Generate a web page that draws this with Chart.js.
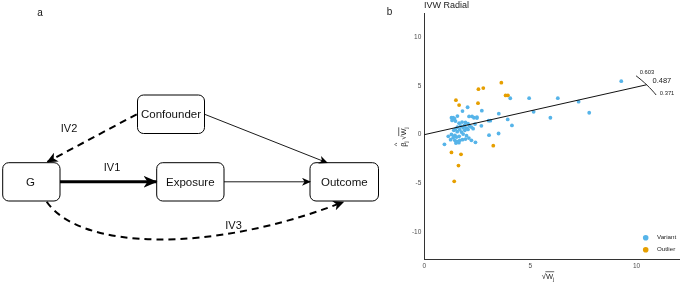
<!DOCTYPE html>
<html>
<head>
<meta charset="utf-8">
<script src="https://cdn.jsdelivr.net/npm/chart.js@4.4.1/dist/chart.umd.min.js"></script>
<style>
  html, body { margin: 0; padding: 0; background: #fff; }
  #wrap { position: relative; width: 683px; height: 285px; overflow: hidden; }
  #radialChart { position: absolute; left: 0; top: 0; }
  #dag { position: absolute; left: 0; top: 0; }
  #dag text { font-family: "Liberation Sans", Arial, sans-serif; fill: #111; }
</style>
</head>
<body>
<div id="wrap">
  <canvas id="radialChart" width="683" height="285"></canvas>
  <svg id="dag" width="380" height="285" viewBox="0 0 380 285">
    <defs>
      <marker id="headBig" markerUnits="userSpaceOnUse" markerWidth="14" markerHeight="12" refX="13" refY="6" orient="auto">
        <path d="M0,0 L14,6 L0,12 L4,6 Z" fill="#000"/>
      </marker>
      <marker id="headMid" markerUnits="userSpaceOnUse" markerWidth="11" markerHeight="10" refX="10" refY="5" orient="auto">
        <path d="M0,0 L11,5 L0,10 L3,5 Z" fill="#000"/>
      </marker>
      <marker id="headSmall" markerUnits="userSpaceOnUse" markerWidth="9" markerHeight="8" refX="8" refY="4" orient="auto">
        <path d="M0,0 L9,4 L0,8 L2.5,4 Z" fill="#000"/>
      </marker>
    </defs>
    <text x="40" y="16" font-size="10" text-anchor="middle">a</text>

    <!-- boxes -->
    <rect x="137.5" y="95" width="67" height="38.5" rx="6" fill="#fff" stroke="#000" stroke-width="1"/>
    <rect x="2.7" y="162.7" width="57.3" height="38.3" rx="6" fill="#fff" stroke="#000" stroke-width="1"/>
    <rect x="156.7" y="162.7" width="67.3" height="38.3" rx="6" fill="#fff" stroke="#000" stroke-width="1"/>
    <rect x="310" y="162.7" width="68.5" height="38.3" rx="6" fill="#fff" stroke="#000" stroke-width="1"/>
    <text x="171" y="118" font-size="11.5" text-anchor="middle">Confounder</text>
    <text x="30.5" y="186" font-size="11.5" text-anchor="middle">G</text>
    <text x="190.3" y="186" font-size="11.5" text-anchor="middle">Exposure</text>
    <text x="344.3" y="186" font-size="11.5" text-anchor="middle">Outcome</text>

    <!-- arrows -->
    <line x1="60" y1="181.8" x2="156.5" y2="181.8" stroke="#000" stroke-width="3" marker-end="url(#headBig)"/>
    <line x1="224" y1="181.8" x2="310" y2="181.8" stroke="#000" stroke-width="0.9" marker-end="url(#headSmall)"/>
    <line x1="204.7" y1="114.3" x2="327" y2="162.7" stroke="#000" stroke-width="0.9" marker-end="url(#headSmall)"/>
    <line x1="136.7" y1="114.3" x2="47.5" y2="161.8" stroke="#000" stroke-width="2" stroke-dasharray="7,5" marker-end="url(#headMid)"/>
    <path d="M46.7,201.7 C80,250 210,254 343.3,202" fill="none" stroke="#000" stroke-width="2" stroke-dasharray="7,5" marker-end="url(#headMid)"/>

    <text x="69" y="132" font-size="11" text-anchor="middle">IV2</text>
    <text x="112" y="170.5" font-size="11" text-anchor="middle">IV1</text>
    <text x="233.5" y="229" font-size="11" text-anchor="middle">IV3</text>
  </svg>
</div>
<script>
// Radial IVW plot data
const variantX = [9.28, 7.27, 7.77, 6.29, 4.94, 5.15, 5.94, 4.05, 4.13, 3.93, 3.51, 3.50, 3.05, 2.41, 0.95,
  2.04, 2.71, 3.03, 3.11, 2.69, 2.48, 1.80,
  1.28, 1.36, 1.42, 1.31, 1.47, 1.56, 2.11, 2.25, 2.34, 2.48,
  1.64, 1.78, 1.94, 2.06, 1.89, 2.13, 2.39, 1.72, 1.56, 2.22,
  1.83, 1.99, 1.67, 1.39, 1.47, 1.91, 2.06, 2.30, 1.55, 1.75,
  1.13, 1.28, 1.44, 1.52, 1.36, 1.64, 1.83, 1.99,
  1.44, 1.55, 1.49, 1.67, 1.80, 1.94, 2.10, 2.22, 1.63, 1.24];
const variantY = [5.47, 3.37, 2.24, 3.73, 3.73, 2.33, 1.73, 3.72, 0.95, 1.56, 2.15, 0.12, -0.05, -0.78, -0.99,
  2.80, 2.45, 1.43, 1.43, 0.90, 1.70, 2.41,
  1.73, 1.73, 1.63, 1.46, 1.39, 1.90, 1.87, 1.87, 1.73, 1.80,
  1.18, 1.29, 1.26, 1.12, 0.95, 0.88, 1.08, 0.88, 0.78, 0.78,
  0.71, 0.68, 0.51, 0.44, 0.57, 0.44, 0.54, 0.61, 0.31, 0.27,
  -0.17, 0.03, -0.07, -0.24, -0.31, -0.17, 0.06, -0.10,
  -0.58, -0.71, -0.86, -0.58, -0.51, -0.45, -0.35, -0.58, -0.82, -0.51];
const outlierX = [3.63, 2.55, 2.78, 3.83, 3.94, 1.49, 1.64, 2.53, 3.25, 1.28, 1.73, 1.61, 1.41];
const outlierY = [5.31, 4.65, 4.76, 4.01, 4.01, 3.53, 3.02, 3.22, -1.12, -1.81, -2.01, -3.16, -4.77];

// IVW estimate and its confidence bounds, radius of the scale arc
const ivwEstimate = 0.487;
const ivwLower = 0.371;
const ivwUpper = 0.603;
const arcRadius = 11.65;

const xTicks = [0, 5, 10];
const yTicks = [-10, -5, 0, 5, 10];

const blue = "#56B4E9";
const orange = "#E69F00";

function toPoints(xs, ys) {
  return xs.map((x, i) => ({ x: x, y: ys[i] }));
}
function onArc(slope, r) {
  const a = Math.atan(slope);
  return { x: r * Math.cos(a), y: r * Math.sin(a) };
}
function arcPoints(lo, hi, r) {
  const pts = [];
  const a0 = Math.atan(lo), a1 = Math.atan(hi);
  for (let k = 0; k <= 8; k++) {
    const a = a0 + (a1 - a0) * k / 8;
    pts.push({ x: r * Math.cos(a), y: r * Math.sin(a) });
  }
  return pts;
}

const FONT = '"Liberation Sans", Arial, sans-serif';

// draws  beta-hat_j sqrt(W_j)  or  sqrt(W_j) centred on 0,0
function drawMathLabel(ctx, fs, withBeta) {
  const mainF = fs + "px " + FONT;
  const subF = (fs * 0.72).toFixed(1) + "px " + FONT;
  ctx.font = mainF;
  const wB = ctx.measureText("β").width;
  const wS = ctx.measureText("√").width;
  const wW = ctx.measureText("W").width;
  ctx.font = subF;
  const wJ = ctx.measureText("j").width;
  const total = (withBeta ? wB + wJ + 1.5 : 0) + wS + wW + wJ;
  let x = -total / 2;
  const base = fs * 0.35;
  ctx.textBaseline = "alphabetic";
  ctx.textAlign = "left";
  if (withBeta) {
    ctx.font = mainF;
    ctx.fillText("β", x, base);
    ctx.fillText("^", x + wB * 0.12, base - fs * 0.82);
    x += wB;
    ctx.font = subF;
    ctx.fillText("j", x, base + fs * 0.3);
    x += wJ + 1.5;
  }
  ctx.font = mainF;
  ctx.fillText("√", x, base);
  x += wS;
  ctx.fillText("W", x, base);
  ctx.lineWidth = 0.7;
  ctx.beginPath();
  ctx.moveTo(x - 0.5, base - fs * 0.92);
  ctx.lineTo(x + wW + wJ, base - fs * 0.92);
  ctx.stroke();
  x += wW;
  ctx.font = subF;
  ctx.fillText("j", x, base + fs * 0.3);
}

const decorPlugin = {
  id: "decor",
  afterDraw(chart) {
    const ctx = chart.ctx;
    const xs = chart.scales.x, ys = chart.scales.y;
    ctx.save();
    ctx.fillStyle = "#1a1a1a";
    ctx.strokeStyle = "#1a1a1a";

    // panel letter and title
    ctx.font = "10px " + FONT;
    ctx.textBaseline = "middle";
    ctx.textAlign = "center";
    ctx.fillText("b", 389.5, 12);
    ctx.textAlign = "left";
    ctx.font = "9px " + FONT;
    ctx.fillText("IVW Radial", 424, 5.5);

    // axis titles
    ctx.fillStyle = "#222";
    ctx.strokeStyle = "#222";
    ctx.save();
    ctx.translate(403, 137);
    ctx.rotate(-Math.PI / 2);
    drawMathLabel(ctx, 7.5, true);
    ctx.restore();
    ctx.save();
    ctx.translate(548, 276);
    drawMathLabel(ctx, 7.5, false);
    ctx.restore();

    // estimate labels on the scale arc
    ctx.textBaseline = "middle";
    ctx.textAlign = "center";
    const labels = [
      { v: ivwUpper, r: 12.25, fs: 5.8 },
      { v: ivwEstimate, r: 12.45, fs: 7.5 },
      { v: ivwLower, r: 12.2, fs: 5.8 },
    ];
    labels.forEach((l) => {
      const p = onArc(l.v, l.r);
      ctx.font = l.fs + "px " + FONT;
      ctx.fillText(l.v.toFixed(3), xs.getPixelForValue(p.x), ys.getPixelForValue(p.y));
    });

    // legend, bottom right inside panel
    ctx.font = "6.2px " + FONT;
    ctx.textAlign = "left";
    [0, 1].forEach((i, k) => {
      const ds = chart.data.datasets[i];
      const y = 237.7 + k * 12;
      ctx.fillStyle = ds.backgroundColor;
      ctx.beginPath();
      ctx.arc(645.7, y, 2.8, 0, Math.PI * 2);
      ctx.fill();
      ctx.fillStyle = "#222";
      ctx.fillText(ds.label, 657, y);
    });
    ctx.restore();
  },
};

const radialCtx = document.getElementById("radialChart");
const lineEnd = onArc(ivwEstimate, arcRadius);

new Chart(radialCtx, {
  type: "scatter",
  data: {
    datasets: [
      {
        label: "Variant",
        data: toPoints(variantX, variantY),
        backgroundColor: blue,
        borderWidth: 0,
        pointRadius: 1.9,
        order: 2,
      },
      {
        label: "Outlier",
        data: toPoints(outlierX, outlierY),
        backgroundColor: orange,
        borderWidth: 0,
        pointRadius: 1.9,
        order: 2,
      },
      {
        label: "IVW",
        type: "line",
        data: [{ x: 0, y: 0 }, lineEnd],
        borderColor: "#111",
        borderWidth: 1,
        pointRadius: 0,
        tension: 0,
        order: 1,
      },
      {
        label: "scale",
        type: "line",
        data: arcPoints(ivwLower, ivwUpper, arcRadius),
        borderColor: "#111",
        borderWidth: 0.9,
        pointRadius: 0,
        tension: 0,
        order: 1,
      },
    ],
  },
  options: {
    responsive: false,
    animation: false,
    devicePixelRatio: 1,
    layout: {
      padding: { left: 380, top: 13.3, right: 3, bottom: 0 },
    },
    plugins: {
      legend: { display: false },
      tooltip: { enabled: false },
    },
    scales: {
      x: {
        type: "linear",
        min: 0,
        max: 12,
        afterFit: (axis) => { axis.height = 26; },
        afterBuildTicks: (axis) => { axis.ticks = xTicks.map((v) => ({ value: v })); },
        ticks: {
          font: { size: 6.5, family: FONT },
          color: "#4d4d4d",
          padding: 3,
        },
        grid: { display: false, drawTicks: false },
        border: { display: true, color: "#333", width: 1 },
      },
      y: {
        type: "linear",
        min: -12.7,
        max: 12.4,
        afterFit: (axis) => { axis.width = 44.3; },
        afterBuildTicks: (axis) => { axis.ticks = yTicks.map((v) => ({ value: v })); },
        ticks: {
          font: { size: 6.5, family: FONT },
          color: "#4d4d4d",
          padding: 3,
        },
        grid: { display: false, drawTicks: false },
        border: { display: true, color: "#333", width: 1 },
      },
    },
  },
  plugins: [decorPlugin],
});
</script>
</body>
</html>
